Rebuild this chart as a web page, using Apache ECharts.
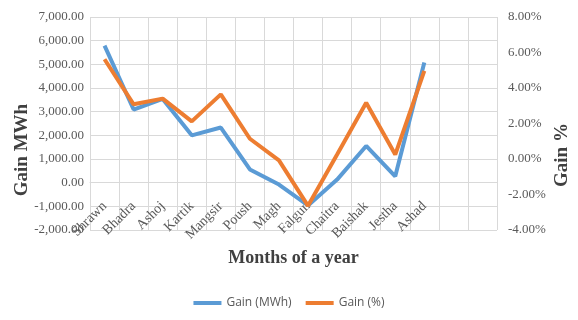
<!DOCTYPE html>
<html>
<head>
<meta charset="utf-8">
<script src="https://cdn.jsdelivr.net/npm/echarts@6/dist/echarts.min.js"></script>
<style>html,body{margin:0;padding:0;background:#fff;}#c{width:578px;height:320px;}</style>
</head>
<body>
<div id="c"></div>
<script>
const categories = ['Shrawn','Bhadra','Ashoj','Kartik','Mangsir','Poush','Magh','Falgun','Chaitra','Baishak','Jestha','Ashad','',''];
const gainMWh = [5790, 3090, 3540, 2000, 2330, 560, -80, -960, 130, 1550, 270, 5080];
const gainPct = [5.62, 3.08, 3.4, 2.12, 3.64, 1.14, -0.08, -2.64, 0.25, 3.17, 0.25, 4.96];
const leftTicks = {min: -2000, max: 7000, interval: 1000};
const rightTicks = {min: -4, max: 8, interval: 2};

const serif = '"Liberation Serif", "DejaVu Serif", serif';
const chart = echarts.init(document.getElementById('c'));
chart.setOption({
  animation: false,
  backgroundColor: '#fff',
  grid: {left: 90, right: 81, top: 17, bottom: 90, containLabel: false},
  legend: {
    bottom: 6, left: 'center',
    icon: 'rect', itemWidth: 28, itemHeight: 4, itemGap: 14,
    textStyle: {fontFamily: '"Open Sans", sans-serif', fontSize: 12, color: '#595959'},
    data: ['Gain (MWh)', 'Gain (%)']
  },
  xAxis: {
    type: 'category', data: categories, boundaryGap: true,
    axisLine: {lineStyle: {color: '#D9D9D9'}},
    axisTick: {show: false},
    splitLine: {show: true, interval: 0, lineStyle: {color: '#D9D9D9'}},
    axisLabel: {rotate: 45, interval: 0, fontFamily: serif, fontSize: 14, color: '#595959', margin: -26},
    name: 'Months of a year', nameLocation: 'middle', nameGap: 19, nameMoveOverlap: false,
    nameTextStyle: {fontFamily: serif, fontWeight: 'bold', fontSize: 18, color: '#404040'}
  },
  yAxis: [{
    type: 'value', min: leftTicks.min, max: leftTicks.max, interval: leftTicks.interval,
    axisLine: {show: false}, axisTick: {show: false},
    splitLine: {lineStyle: {color: '#D9D9D9'}},
    axisLabel: {fontFamily: serif, fontSize: 13, color: '#595959', margin: 6,
      formatter: v => v.toLocaleString('en-US', {minimumFractionDigits: 2, maximumFractionDigits: 2})}
  }, {
    type: 'value', min: rightTicks.min, max: rightTicks.max, interval: rightTicks.interval,
    axisLine: {show: false}, axisTick: {show: false}, splitLine: {show: false},
    axisLabel: {fontFamily: serif, fontSize: 13, color: '#595959', margin: 11,
      formatter: v => v.toFixed(2) + '%'}
  }],
  graphic: [{
    type: 'text', x: 22, y: 150, rotation: Math.PI / 2,
    style: {text: 'Gain MWh', fontFamily: serif, fontWeight: 'bold', fontSize: 19, fill: '#404040', align: 'center', verticalAlign: 'middle'}
  }, {
    type: 'text', x: 562, y: 155, rotation: Math.PI / 2,
    style: {text: 'Gain %', fontFamily: serif, fontWeight: 'bold', fontSize: 19, fill: '#404040', align: 'center', verticalAlign: 'middle'}
  }],
  series: [{
    name: 'Gain (MWh)', type: 'line', data: gainMWh, yAxisIndex: 0,
    symbol: 'none', lineStyle: {width: 4, color: '#5B9BD5'}, itemStyle: {color: '#5B9BD5'}
  }, {
    name: 'Gain (%)', type: 'line', data: gainPct, yAxisIndex: 1,
    symbol: 'none', lineStyle: {width: 4, color: '#ED7D31'}, itemStyle: {color: '#ED7D31'}
  }]
});
</script>
</body>
</html>
